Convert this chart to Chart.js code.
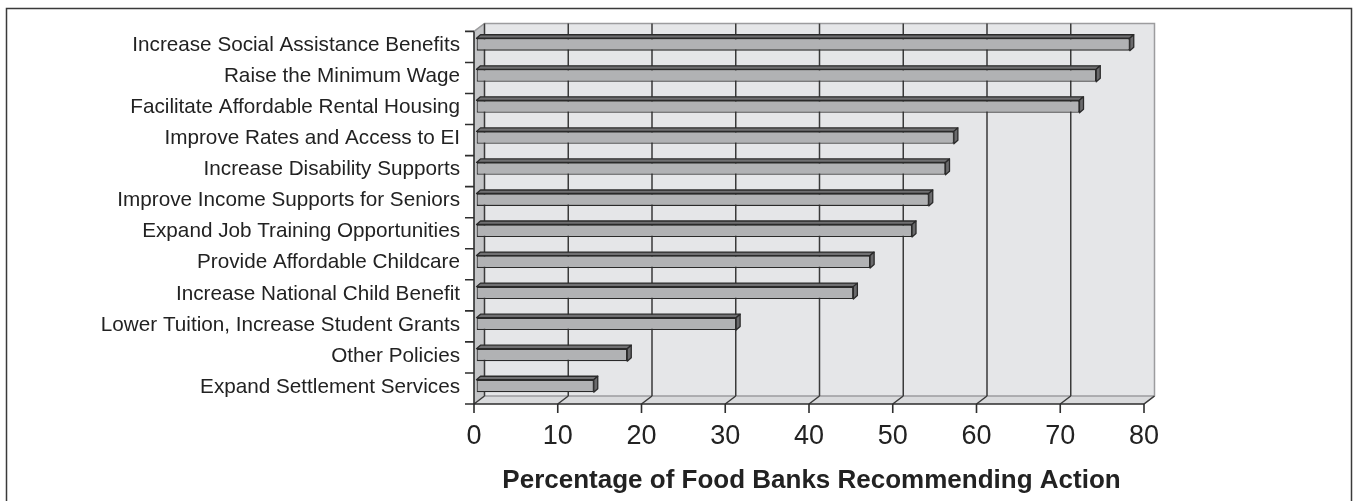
<!DOCTYPE html>
<html>
<head>
<meta charset="utf-8">
<script src="https://cdn.jsdelivr.net/npm/chart.js@4.4.1/dist/chart.umd.min.js"></script>
<style>
  html, body { margin: 0; padding: 0; background: #ffffff; }
  #wrap { width: 1358px; height: 501px; }
</style>
</head>
<body>
<div id="wrap"><canvas id="c" width="1358" height="501"></canvas></div>
<script>
const categories = [
  "Increase Social Assistance Benefits",
  "Raise the Minimum Wage",
  "Facilitate Affordable Rental Housing",
  "Improve Rates and Access to EI",
  "Increase Disability Supports",
  "Improve Income Supports for Seniors",
  "Expand Job Training Opportunities",
  "Provide Affordable Childcare",
  "Increase National Child Benefit",
  "Lower Tuition, Increase Student Grants",
  "Other Policies",
  "Expand Settlement Services"
];
const values = [78, 74, 72, 57, 56, 54, 52, 47, 45, 31, 18, 14];
const xMin = 0;
const xMax = 80;
const xStep = 10;
const axisTitle = "Percentage of Food Banks Recommending Action";

// 3D geometry helpers (offsets of planes relative to the bar plane)
const FRONT_DX = -2.5, FRONT_DY = 2.5;   // front (axis) plane
const DEPTH_DX = 10.5, DEPTH_DY = -8;    // back wall relative to front plane
const BAR_DX = 4, BAR_DY = -3.5;         // bar depth

const threeD = {
  id: 'threeD',
  beforeDraw(chart) {
    const ctx = chart.ctx;
    ctx.save();
    ctx.strokeStyle = '#3a3a3a';
    ctx.lineWidth = 1.5;
    ctx.strokeRect(6.5, 8.5, 1345, 520);
    ctx.restore();
  },
  beforeDatasetsDraw(chart) {
    const ctx = chart.ctx, ca = chart.chartArea, xs = chart.scales.x;
    const fl = ca.left + FRONT_DX, fr = ca.right + FRONT_DX;
    const ft = ca.top + FRONT_DY, fb = ca.bottom + FRONT_DY;
    const bl = fl + DEPTH_DX, br = fr + DEPTH_DX;
    const bt = ft + DEPTH_DY, bb = fb + DEPTH_DY;
    ctx.save();
    // back wall
    ctx.fillStyle = '#e5e6e8';
    ctx.fillRect(bl, bt, br - bl, bb - bt);
    // left side wall
    ctx.fillStyle = '#c4c5c7';
    ctx.beginPath();
    ctx.moveTo(fl, ft); ctx.lineTo(bl, bt); ctx.lineTo(bl, bb); ctx.lineTo(fl, fb);
    ctx.closePath(); ctx.fill();
    // floor
    ctx.fillStyle = '#d9dadc';
    ctx.beginPath();
    ctx.moveTo(fl, fb); ctx.lineTo(fr, fb); ctx.lineTo(br, bb); ctx.lineTo(bl, bb);
    ctx.closePath(); ctx.fill();
    // light edges
    ctx.strokeStyle = '#9c9c9e';
    ctx.lineWidth = 1.5;
    ctx.beginPath();
    ctx.moveTo(fl, ft); ctx.lineTo(bl, bt); ctx.lineTo(br, bt); ctx.lineTo(br, bb); ctx.lineTo(fr, fb);
    ctx.moveTo(bl, bb); ctx.lineTo(br, bb);
    ctx.stroke();
    // gridlines on back wall and floor
    ctx.strokeStyle = '#3a3a3a';
    ctx.lineWidth = 1.5;
    xs.ticks.forEach(t => {
      const xf = xs.getPixelForValue(t.value) + FRONT_DX;
      const xb = xf + DEPTH_DX;
      ctx.beginPath();
      if (t.value < xMax) { ctx.moveTo(xb, bt); ctx.lineTo(xb, bb); }
      ctx.moveTo(xf, fb); ctx.lineTo(xb, bb);
      ctx.stroke();
    });
    ctx.restore();
  },
  afterDatasetsDraw(chart) {
    const ctx = chart.ctx, ca = chart.chartArea, xs = chart.scales.x, ys = chart.scales.y;
    const meta = chart.getDatasetMeta(0);
    ctx.save();
    ctx.lineWidth = 1.3;
    ctx.strokeStyle = '#2a2a2a';
    ctx.lineJoin = 'round';
    meta.data.forEach(bar => {
      const p = bar.getProps(['x', 'y', 'base', 'height'], true);
      const top = p.y - p.height / 2, bot = p.y + p.height / 2;
      // top face
      ctx.fillStyle = '#707072';
      ctx.beginPath();
      ctx.moveTo(p.base, top); ctx.lineTo(p.x, top);
      ctx.lineTo(p.x + BAR_DX, top + BAR_DY); ctx.lineTo(p.base + BAR_DX, top + BAR_DY);
      ctx.closePath(); ctx.fill(); ctx.stroke();
      // end cap
      ctx.fillStyle = '#6a6a6c';
      ctx.beginPath();
      ctx.moveTo(p.x, top); ctx.lineTo(p.x + BAR_DX, top + BAR_DY);
      ctx.lineTo(p.x + BAR_DX, bot + BAR_DY); ctx.lineTo(p.x, bot);
      ctx.closePath(); ctx.fill(); ctx.stroke();
    });
    // front axes
    const fl = ca.left + FRONT_DX, fr = ca.right + FRONT_DX;
    const ft = ca.top + FRONT_DY, fb = ca.bottom + FRONT_DY;
    ctx.strokeStyle = '#2e2e2e';
    ctx.lineWidth = 1.6;
    ctx.beginPath();
    ctx.moveTo(fl, ft); ctx.lineTo(fl, fb + 9);
    ctx.moveTo(fl, fb); ctx.lineTo(fr, fb);
    xs.ticks.forEach(t => {
      const xf = xs.getPixelForValue(t.value) + FRONT_DX;
      ctx.moveTo(xf, fb); ctx.lineTo(xf, fb + 9);
    });
    const n = ys.ticks.length;
    const step = (ca.bottom - ca.top) / n;
    for (let i = 0; i < n; i++) {
      const yy = ca.top + i * step + FRONT_DY;
      ctx.moveTo(fl - 9, yy); ctx.lineTo(fl, yy);
    }
    ctx.moveTo(fl - 9, fb); ctx.lineTo(fl, fb);
    ctx.stroke();
    ctx.restore();
  }
};

new Chart(document.getElementById('c'), {
  type: 'bar',
  data: {
    labels: categories,
    datasets: [{
      data: values,
      backgroundColor: '#b1b2b4',
      borderColor: '#2a2a2a',
      borderWidth: 1.3,
      borderSkipped: false,
      barPercentage: 0.4,
      categoryPercentage: 1.0
    }]
  },
  options: {
    indexAxis: 'y',
    responsive: false,
    animation: false,
    events: [],
    layout: { padding: { top: 28, right: 211.5, left: 0, bottom: 0 } },
    plugins: { legend: { display: false }, tooltip: { enabled: false } },
    scales: {
      y: {
        type: 'category',
        grid: { display: false, drawTicks: false, tickLength: 0 },
        border: { display: false },
        ticks: {
          color: '#222222',
          font: { family: "'Liberation Sans', Arial, sans-serif", size: 20.7 },
          padding: 16.5,
          labelOffset: 1,
          autoSkip: false
        },
        afterFit(s) { s.width = 476.5; }
      },
      x: {
        min: xMin,
        max: xMax,
        grid: { display: false, drawTicks: false, tickLength: 0 },
        border: { display: false },
        ticks: {
          stepSize: xStep,
          color: '#222222',
          font: { family: "'Liberation Sans', Arial, sans-serif", size: 27 },
          padding: 18.5,
          labelOffset: FRONT_DX,
          maxRotation: 0
        },
        title: {
          display: true,
          text: axisTitle,
          color: '#222222',
          font: { family: "'Liberation Sans', Arial, sans-serif", size: 26, weight: 'bold' },
          padding: { top: 0, bottom: 5 }
        },
        afterFit(s) { s.height = 99.5; }
      }
    }
  },
  plugins: [threeD]
});
</script>
</body>
</html>
